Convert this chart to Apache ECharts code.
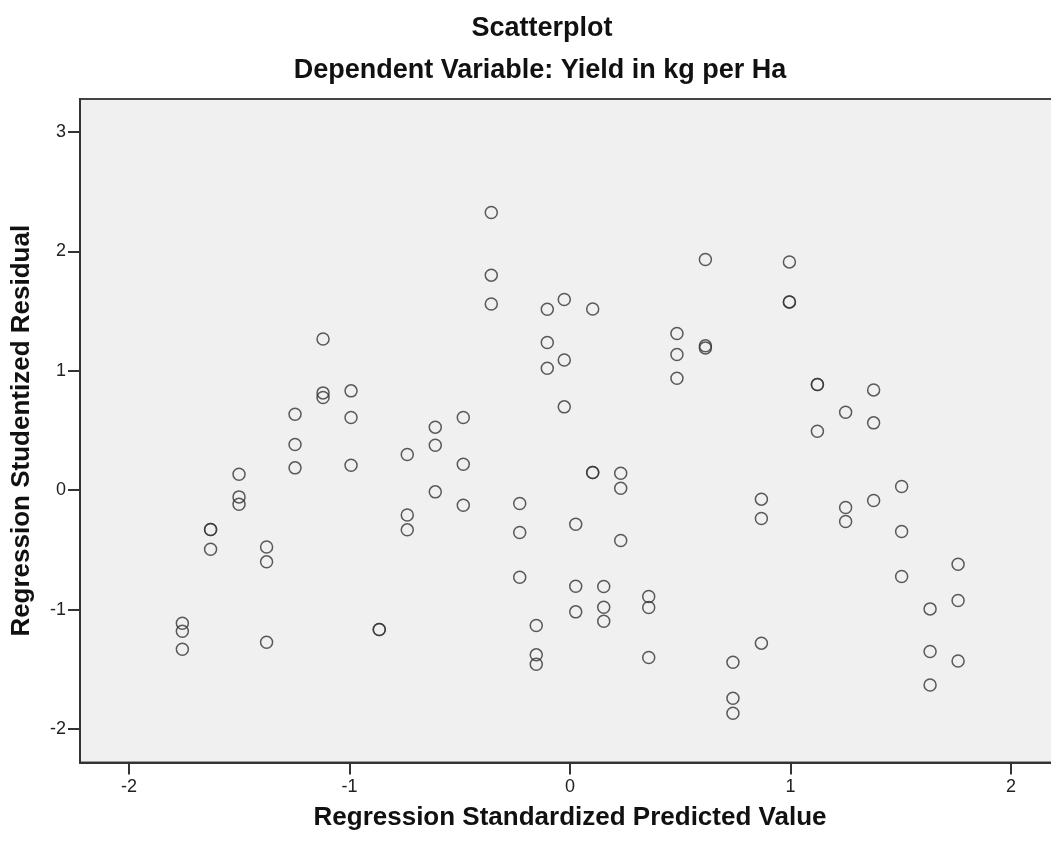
<!DOCTYPE html>
<html>
<head>
<meta charset="utf-8">
<script src="https://cdn.jsdelivr.net/npm/echarts@6/dist/echarts.min.js"></script>
<style>html,body{margin:0;padding:0;background:#fff}#c{width:1051px;height:844px}</style>
</head>
<body>
<div id="c"></div>
<script>
const titleText = 'Scatterplot';
const subtitleText = 'Dependent Variable: Yield in kg per Ha';
const xName = 'Regression Standardized Predicted Value';
const yName = 'Regression Studentized Residual';
const xTicks = [-2, -1, 0, 1, 2];
const yTicks = [-2, -1, 0, 1, 2, 3];

const predicted = [
 -1.758,-1.758,-1.758, -1.630,-1.630,-1.630, -1.501,-1.501,-1.501, -1.376,-1.376,-1.376,
 -1.247,-1.247,-1.247, -1.120,-1.120,-1.120, -0.993,-0.993,-0.993, -0.865,-0.865,
 -0.738,-0.738,-0.738, -0.611,-0.611,-0.611, -0.484,-0.484,-0.484, -0.357,-0.357,-0.357,
 -0.228,-0.228,-0.228, -0.153,-0.153,-0.153, -0.103,-0.103,-0.103, -0.026,-0.026,-0.026,
 0.026,0.026,0.026, 0.103,0.103,0.103, 0.153,0.153,0.153, 0.230,0.230,0.230,
 0.357,0.357,0.357, 0.485,0.485,0.485, 0.614,0.614,0.614, 0.739,0.739,0.739,
 0.868,0.868,0.868, 0.995,0.995,0.995, 1.122,1.122,1.122, 1.250,1.250,1.250,
 1.377,1.377,1.377, 1.504,1.504,1.504, 1.633,1.633,1.633, 1.760,1.760,1.760
];
const residual = [
 -1.114,-1.181,-1.332, -0.329,-0.329,-0.494, 0.134,-0.056,-0.117, -0.475,-0.600,-1.273,
 0.636,0.383,0.187, 1.267,0.815,0.776, 0.832,0.609,0.209, -1.167,-1.167,
 0.299,-0.207,-0.332, 0.528,0.377,-0.014, 0.609,0.218,-0.126, 2.326,1.801,1.560,
 -0.111,-0.354,-0.729, -1.133,-1.379,-1.457, 1.516,1.237,1.022, 1.597,1.091,0.698,
 -0.285,-0.804,-1.019, 1.518,0.148,0.148, -0.807,-0.980,-1.097, 0.142,0.017,-0.421,
 -0.890,-0.982,-1.401, 1.312,1.137,0.938, 1.932,1.209,1.192, -1.441,-1.742,-1.868,
 -0.075,-0.237,-1.281, 1.912,1.577,1.577, 0.885,0.885,0.494, 0.653,-0.145,-0.262,
 0.840,0.564,-0.086, 0.031,-0.346,-0.723, -0.994,-1.351,-1.631, -0.620,-0.924,-1.430
];

const points = predicted.map((x, i) => [x, residual[i]]);
const FONT = '"Liberation Sans", Arial, sans-serif';

const chart = echarts.init(document.getElementById('c'), null, {renderer: 'canvas'});
chart.setOption({
  animation: false,
  backgroundColor: '#ffffff',
  title: [
    {text: titleText, left: 537, top: 10, textAlign: 'center',
     textStyle: {fontFamily: FONT, fontSize: 27, fontWeight: 'bold', color: '#111'}},
    {text: subtitleText, left: 535, top: 52, textAlign: 'center',
     textStyle: {fontFamily: FONT, fontSize: 27, fontWeight: 'bold', color: '#111'}}
  ],
  grid: {
    left: 80, top: 99, right: -9, bottom: 81.5,
    show: true, backgroundColor: '#f0f0f0', borderColor: '#444', borderWidth: 2,
    containLabel: false, outerBoundsMode: 'none'
  },
  xAxis: {
    type: 'value', min: -2.2222, max: 2.2222,
    name: xName, nameLocation: 'middle', nameGap: 42, nameMoveOverlap: false,
    nameTextStyle: {fontFamily: FONT, fontSize: 26, fontWeight: 'bold', color: '#111', verticalAlign: 'top'},
    splitLine: {show: false},
    axisLine: {show: true, onZero: false, lineStyle: {color: '#333', width: 2}},
    axisTick: {show: true, length: 12, inside: false, customValues: xTicks, lineStyle: {color: '#333', width: 2}},
    axisLabel: {customValues: xTicks, fontFamily: FONT, fontSize: 18, color: '#222', margin: 16,
                formatter: v => String(v)}
  },
  yAxis: {
    type: 'value', min: -2.2806, max: 3.2764,
    name: yName, nameLocation: 'middle', nameGap: 45, nameRotate: 90, nameMoveOverlap: false,
    nameTextStyle: {fontFamily: FONT, fontSize: 26, fontWeight: 'bold', color: '#111'},
    splitLine: {show: false},
    axisLine: {show: true, onZero: false, lineStyle: {color: '#333', width: 2}},
    axisTick: {show: true, length: 12, inside: false, customValues: yTicks, lineStyle: {color: '#333', width: 2}},
    axisLabel: {customValues: yTicks, fontFamily: FONT, fontSize: 18, color: '#222', margin: 14,
                formatter: v => String(v)}
  },
  series: [{
    type: 'scatter',
    data: points,
    symbol: 'circle',
    symbolSize: 12,
    itemStyle: {color: 'rgba(0,0,0,0)', borderColor: '#333', borderWidth: 1.5}
  }]
});
</script>
</body>
</html>
